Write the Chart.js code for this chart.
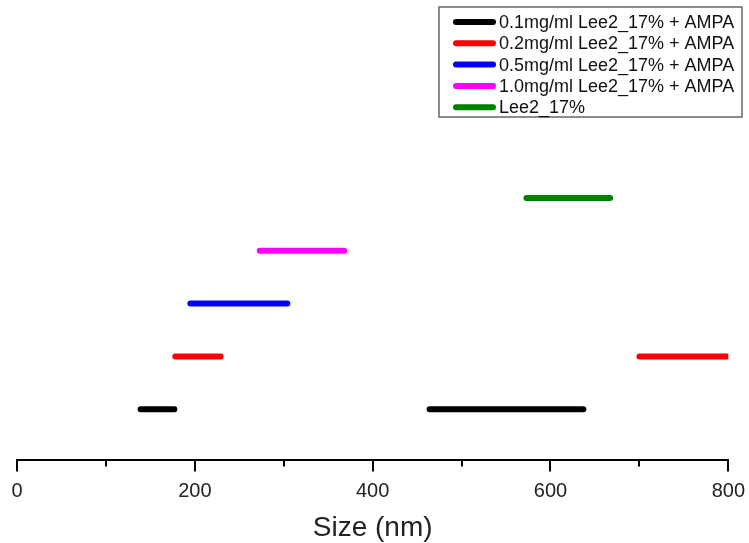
<!DOCTYPE html>
<html>
<head>
<meta charset="utf-8">
<script src="https://cdn.jsdelivr.net/npm/chart.js@4"></script>
<style>
    html, body { margin: 0; padding: 0; background: #ffffff; }
    #wrap { width: 749px; height: 543px; }
</style>
</head>
<body>
<div id="wrap"><canvas id="chartTamanos" width="749" height="543"></canvas></div>
<script>
// ===== Datos del gráfico =====
const etiquetas = [
    '0.1mg/ml Lee2_17% + AMPA',
    '0.2mg/ml Lee2_17% + AMPA',
    '0.5mg/ml Lee2_17% + AMPA',
    '1.0mg/ml Lee2_17% + AMPA',
    'Lee2_17%'
];
const colores = ['#000000', '#ff0000', '#0000ff', '#ff00ff', '#008000'];
const niveles = [1, 2, 3, 4, 5];
// inicio y fin de cada tramo (nm), una lista por serie
const inicioTramos = [[139, 464], [178, 700], [195], [273], [573]];
const finTramos = [[177, 637], [229, 810], [304], [368], [667]];
const ticksX = [0, 200, 400, 600, 800];
const ticksMenores = [100, 300, 500, 700];

// Construir puntos con huecos entre tramos
function construirPuntos(i) {
    const puntos = [];
    inicioTramos[i].forEach(function(ini, j) {
        if (j > 0) puntos.push({ x: ini, y: null });
        puntos.push({ x: ini, y: niveles[i] });
        puntos.push({ x: finTramos[i][j], y: niveles[i] });
    });
    return puntos;
}

const datasets = etiquetas.map(function(etq, i) {
    return {
        label: etq,
        data: construirPuntos(i),
        borderColor: colores[i],
        backgroundColor: colores[i],
        borderWidth: 6,
        borderCapStyle: 'round',
        pointRadius: 0,
        showLine: true,
        spanGaps: false,
        fill: false,
        clip: { left: 5, right: 0, top: 5, bottom: 5 }
    };
});

// Marcas del eje X (mayores y menores)
const marcasEje = {
    id: 'marcasEje',
    afterDraw: function(chart) {
        const ctx = chart.ctx;
        const escala = chart.scales.x;
        ctx.save();
        ctx.strokeStyle = '#000';
        ctx.lineWidth = 2;
        function marca(v, largo) {
            const px = Math.round(escala.getPixelForValue(v));
            ctx.beginPath();
            ctx.moveTo(px, escala.top);
            ctx.lineTo(px, escala.top + largo);
            ctx.stroke();
        }
        ticksX.forEach(function(v) { marca(v, 11); });
        ticksMenores.forEach(function(v) { marca(v, 6); });
        ctx.restore();
    }
};

// Leyenda con recuadro
const leyendaCaja = {
    id: 'leyendaCaja',
    afterDraw: function(chart) {
        const ctx = chart.ctx;
        const x0 = 439, y0 = 7, ancho = 303, alto = 110;
        ctx.save();
        ctx.strokeStyle = '#666';
        ctx.lineWidth = 1.5;
        ctx.strokeRect(x0, y0, ancho, alto);
        ctx.font = '18px "Liberation Sans", Arial, sans-serif';
        ctx.textBaseline = 'middle';
        ctx.textAlign = 'left';
        chart.data.datasets.forEach(function(ds, i) {
            const y = 22 + i * 21.3;
            ctx.strokeStyle = ds.borderColor;
            ctx.lineWidth = 6;
            ctx.lineCap = 'round';
            ctx.beginPath();
            ctx.moveTo(456, y);
            ctx.lineTo(493, y);
            ctx.stroke();
            ctx.fillStyle = '#111';
            ctx.fillText(ds.label, 499, y + 1);
        });
        ctx.restore();
    }
};

new Chart(document.getElementById('chartTamanos'), {
    type: 'scatter',
    data: { datasets: datasets },
    options: {
        responsive: false,
        animation: false,
        layout: { padding: { left: 17, right: 19, top: 0, bottom: -2 } },
        plugins: {
            legend: { display: false },
            tooltip: { enabled: false }
        },
        scales: {
            x: {
                type: 'linear',
                min: 0,
                max: 800,
                afterBuildTicks: function(escala) {
                    escala.ticks = ticksX.map(function(v) { return { value: v }; });
                },
                ticks: {
                    font: { family: '"Liberation Sans", Arial, sans-serif', size: 20 },
                    color: '#222',
                    padding: 4,
                    maxRotation: 0
                },
                grid: {
                    drawOnChartArea: false,
                    drawTicks: true,
                    tickLength: 15,
                    tickColor: 'rgba(0,0,0,0)'
                },
                border: { display: true, color: '#000', width: 2 },
                title: {
                    display: true,
                    text: 'Size (nm)',
                    font: { family: '"Liberation Sans", Arial, sans-serif', size: 28 },
                    color: '#222',
                    padding: { top: 4, bottom: 0 }
                }
            },
            y: {
                display: false,
                min: 0.03,
                max: 8.75
            }
        }
    },
    plugins: [marcasEje, leyendaCaja]
});
</script>
</body>
</html>
